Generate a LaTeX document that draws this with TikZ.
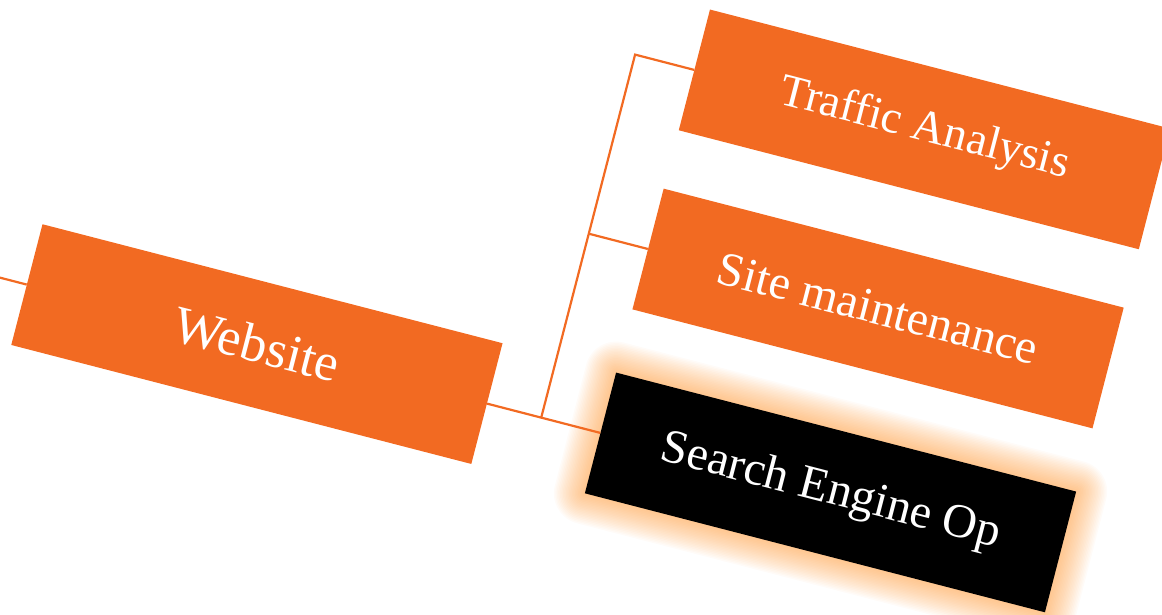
\documentclass[tikz,border=0pt]{standalone}
\usepackage{fontspec}
\setmainfont{Liberation Serif}
\definecolor{orng}{HTML}{F26A22}
\definecolor{glowc}{RGB}{255,140,30}
\tikzset{
  box/.style={minimum width=475.2pt, minimum height=124.7pt, inner sep=0pt,
    fill=orng, text=white, font=\fontsize{48}{52}\selectfont},
  seobox/.style={box, fill=black},
  conn/.style={draw=orng, line width=2.2pt},
}
\begin{document}
\begin{tikzpicture}[x=1pt,y=1pt]
\useasboundingbox (0,0) rectangle (1162,614);
\begin{scope}[shift={(256.9,269.9)}, rotate=-14.5, transform shape]
  % soft glow behind the highlighted box
  \foreach \e in {1,2.5,...,31} {
    \fill[glowc, fill opacity=0.032, rounded corners=\e pt]
      (354.9-\e,-62.35-\e) rectangle (830.1+\e,62.35+\e);
  }
  \node[box] (web) at (0,0) {\fontsize{53}{56}\selectfont Website};
  \node[box] (traffic) at (592.5,375) {\fontsize{46}{50}\selectfont Traffic Analysis};
  \node[box] (site) at (592.5,190) {Site maintenance};
  \node[seobox] (seo) at (592.5,0) {Search Engine Op};
  \coordinate (parent) at (-500,0);
  \coordinate (jt) at (293.7,375);
  \coordinate (jm) at (293.7,190);
  \coordinate (jb) at (293.7,0);
  \draw[conn] (parent) -- (web.west);
  \draw[conn] (web.east) -- (jb) -- (seo.west);
  \draw[conn] (jb) -- (jt) -- (traffic.west);
  \draw[conn] (jm) -- (site.west);
\end{scope}
\end{tikzpicture}
\end{document}
